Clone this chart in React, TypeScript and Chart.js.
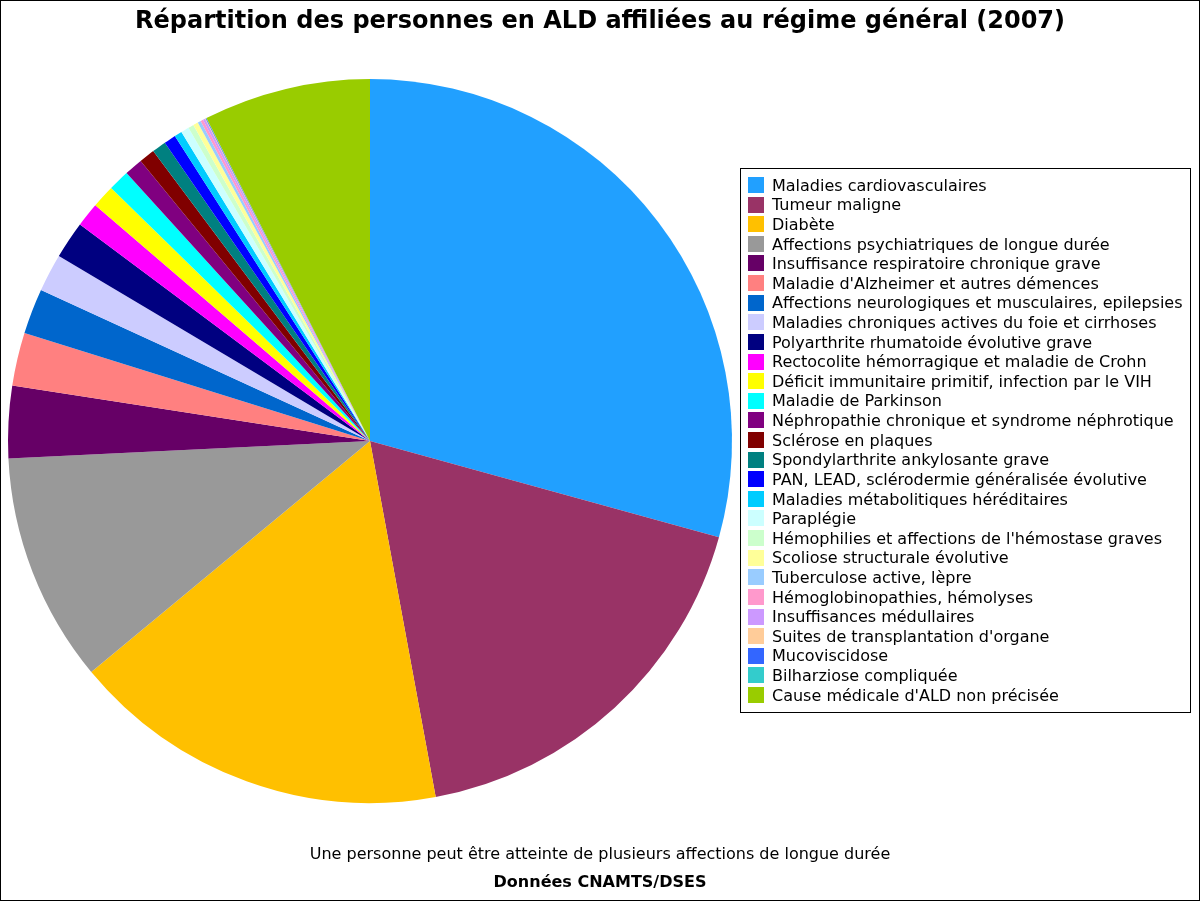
import { useEffect, useRef } from "react";
import { Chart, registerables } from "chart.js";

Chart.register(...registerables);

const categories: string[] = [
  "Maladies cardiovasculaires",
  "Tumeur maligne",
  "Diabète",
  "Affections psychiatriques de longue durée",
  "Insuffisance respiratoire chronique grave",
  "Maladie d'Alzheimer et autres démences",
  "Affections neurologiques et musculaires, epilepsies",
  "Maladies chroniques actives du foie et cirrhoses",
  "Polyarthrite rhumatoide évolutive grave",
  "Rectocolite hémorragique et maladie de Crohn",
  "Déficit immunitaire primitif, infection par le VIH",
  "Maladie de Parkinson",
  "Néphropathie chronique et syndrome néphrotique",
  "Sclérose en plaques",
  "Spondylarthrite ankylosante grave",
  "PAN, LEAD, sclérodermie généralisée évolutive",
  "Maladies métabolitiques héréditaires",
  "Paraplégie",
  "Hémophilies et affections de l'hémostase graves",
  "Scoliose structurale évolutive",
  "Tuberculose active, lèpre",
  "Hémoglobinopathies, hémolyses",
  "Insuffisances médullaires",
  "Suites de transplantation d'organe",
  "Mucoviscidose",
  "Bilharziose compliquée",
  "Cause médicale d'ALD non précisée",
];

const shares: number[] = [
  29.28, 17.81, 16.89, 10.24, 3.22, 2.37, 2.03, 1.69, 1.67, 1.08, 1.03, 0.94,
  0.82, 0.7, 0.63, 0.53, 0.34, 0.36, 0.25, 0.22, 0.14, 0.12, 0.1, 0.03, 0.03,
  0.01, 7.46,
];

const colors: string[] = [
  "#21a0ff", "#993366", "#ffc000", "#999999", "#660066", "#ff8080",
  "#0066cc", "#ccccff", "#000080", "#ff00ff", "#ffff00", "#00ffff",
  "#800080", "#800000", "#008080", "#0000ff", "#00ccff", "#ccffff",
  "#ccffcc", "#ffff99", "#99ccff", "#ff99cc", "#cc99ff", "#ffcc99",
  "#3366ff", "#33cccc", "#99cc00",
];

const titleText = "Répartition des personnes en ALD affiliées au régime général (2007)";
const noteText = "Une personne peut être atteinte de plusieurs affections de longue durée";
const sourceText = "Données CNAMTS/DSES";

export default function App() {
  const ref = useRef<HTMLCanvasElement>(null);

  useEffect(() => {
    document.body.style.margin = "0";
    const canvas = ref.current;
    if (!canvas) return;

    const textPlugin = {
      id: "texts",
      afterDraw(chart: any) {
        const ctx = chart.ctx as CanvasRenderingContext2D;
        ctx.save();
        ctx.fillStyle = "#000";
        ctx.textAlign = "center";
        ctx.textBaseline = "middle";
        ctx.font = "bold 24px 'DejaVu Sans'";
        ctx.fillText(titleText, 600, 22);
        ctx.font = "16px 'DejaVu Sans'";
        ctx.fillText(noteText, 600, 855);
        ctx.font = "bold 16px 'DejaVu Sans'";
        ctx.fillText(sourceText, 600, 883);

        // legend
        ctx.strokeStyle = "#000";
        ctx.lineWidth = 1;
        ctx.strokeRect(740.5, 168.5, 450, 544);
        ctx.textAlign = "left";
        ctx.font = "16px 'DejaVu Sans'";
        const labels = chart.data.labels as string[];
        const bg = chart.data.datasets[0].backgroundColor as string[];
        const step = 510 / 26;
        labels.forEach((lab, i) => {
          const y = 185 + i * step;
          ctx.fillStyle = bg[i];
          ctx.fillRect(748, Math.round(y - 8), 16, 16);
          ctx.fillStyle = "#000";
          ctx.fillText(lab, 772, y + 1.5);
        });

        // frame
        ctx.strokeRect(0.5, 0.5, 1199, 900);
        ctx.restore();
      },
    };

    const chart = new Chart(canvas, {
      type: "pie",
      data: {
        labels: categories,
        datasets: [
          {
            data: shares,
            backgroundColor: colors,
            borderWidth: 0,
            hoverOffset: 0,
            offset: 0,
          },
        ],
      },
      options: {
        responsive: false,
        animation: false,
        layout: { padding: { left: 8, right: 468, top: 79, bottom: 98 } },
        plugins: {
          legend: { display: false },
          tooltip: { enabled: false },
          title: { display: false },
        },
      },
      plugins: [textPlugin],
    });

    return () => chart.destroy();
  }, []);

  return (
    <div style={{ width: 1200, height: 901, background: "#fff" }}>
      <canvas ref={ref} width={1200} height={901} style={{ display: "block" }} />
    </div>
  );
}
